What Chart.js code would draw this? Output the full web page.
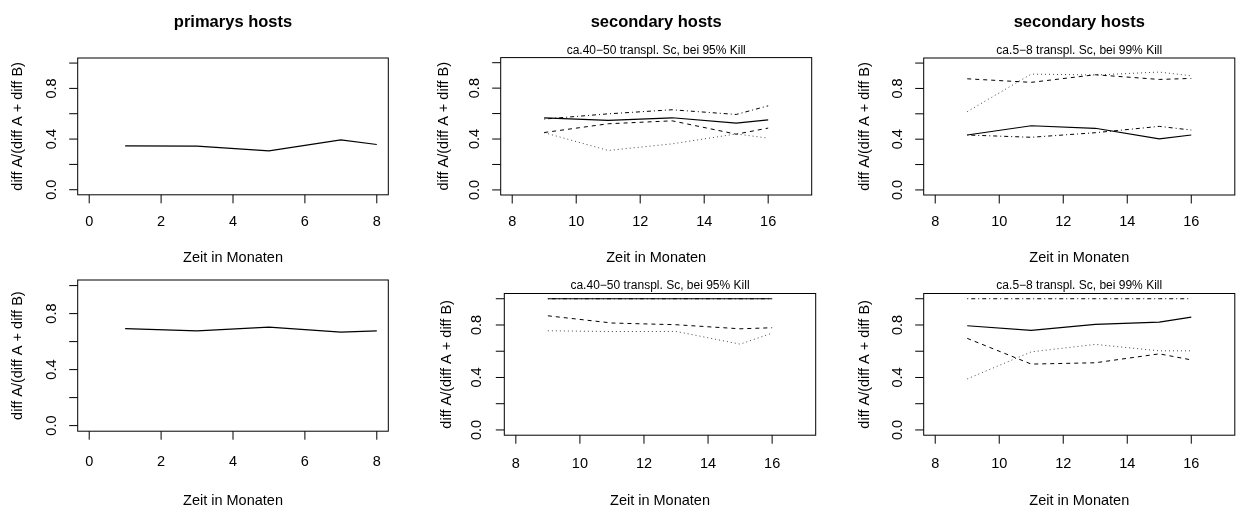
<!DOCTYPE html>
<html>
<head>
<meta charset="utf-8">
<script src="https://cdn.jsdelivr.net/npm/chart.js@4"></script>
<style>
  html, body { margin: 0; padding: 0; background: #fff; }
  #wrap { position: relative; width: 1240px; height: 511px; overflow: hidden; }
  #wrap canvas { position: absolute; left: 0; top: 0; }
</style>
</head>
<body>
<div id="wrap">
  <canvas id="p1" width="1240" height="511"></canvas>
  <canvas id="p2" width="1240" height="511"></canvas>
  <canvas id="p3" width="1240" height="511"></canvas>
  <canvas id="p4" width="1240" height="511"></canvas>
  <canvas id="p5" width="1240" height="511"></canvas>
  <canvas id="p6" width="1240" height="511"></canvas>
</div>
<script>
// months
const primMonths = [1, 3, 5, 7, 8];
const secMonths = [9, 11, 13, 15, 16];

// tick values
const primXTicks = [0, 2, 4, 6, 8];
const secXTicks = [8, 10, 12, 14, 16];
const yTicks = [0, 0.2, 0.4, 0.6, 0.8, 1.0];
const yTickLabels = ['0.0', '0.4', '0.8'];   // R drops the overlapping ones
const yLabelled = [0, 0.4, 0.8];

// top row
const prim1 = [0.346, 0.345, 0.307, 0.394, 0.357];
const sec95Solid1 = [0.567, 0.546, 0.567, 0.525, 0.551];
const sec95Dash1 = [0.451, 0.52, 0.543, 0.438, 0.486];
const sec95Dot1 = [0.45, 0.31, 0.362, 0.44, 0.407];
const sec95DotDash1 = [0.557, 0.598, 0.63, 0.593, 0.661];
const sec99Solid1 = [0.433, 0.506, 0.486, 0.402, 0.433];
const sec99Dash1 = [0.876, 0.848, 0.908, 0.871, 0.879];
const sec99Dot1 = [0.617, 0.913, 0.906, 0.929, 0.9];
const sec99DotDash1 = [0.433, 0.415, 0.451, 0.501, 0.472];

// bottom row
const prim2 = [0.693, 0.676, 0.703, 0.667, 0.676];
const sec95Solid2 = [1, 1, 1, 1, 1];
const sec95Dash2 = [0.87, 0.815, 0.802, 0.771, 0.779];
const sec95Dot2 = [0.756, 0.75, 0.751, 0.654, 0.738];
const sec95DotDash2 = [1, 1, 1, 1, 1];
const sec99Solid2 = [0.794, 0.759, 0.805, 0.822, 0.86];
const sec99Dash2 = [0.698, 0.502, 0.512, 0.58, 0.534];
const sec99Dot2 = [0.389, 0.595, 0.652, 0.603, 0.603];
const sec99DotDash2 = [1, 1, 1, 1, 1];

const titlePrim = 'primarys hosts';
const titleSec = 'secondary hosts';
const sub95 = 'ca.40\u221250 transpl. Sc, bei 95% Kill';
const sub99 = 'ca.5\u22128 transpl. Sc, bei 99% Kill';
const xTitle = 'Zeit in Monaten';
const yTitle = 'diff A/(diff A + diff B)';

const FONT = '"Liberation Sans", Arial, sans-serif';

// line styles like R lty 1..4
const styles = {
  solid:   { color: '#000', dash: [], width: 1.2 },
  dash:    { color: '#000', dash: [4, 4], width: 1 },
  dot:     { color: '#444', dash: [1, 3], width: 1 },
  dotdash: { color: '#000', dash: [1, 3, 4, 3], width: 1 }
};

function series(xs, ys, kind) {
  const s = styles[kind];
  return {
    data: xs.map((x, i) => ({ x: x, y: ys[i] })),
    borderColor: s.color,
    borderDash: s.dash,
    borderWidth: s.width,
    pointRadius: 0,
    tension: 0,
    fill: false
  };
}

// draws the R-style frame: box, ticks, labels, titles
const rFrame = {
  id: 'rFrame',
  afterDraw(chart, args, o) {
    const ctx = chart.ctx;
    const a = chart.chartArea;
    const xs = chart.scales.x, ys = chart.scales.y;
    ctx.save();
    ctx.strokeStyle = '#000';
    ctx.lineWidth = 1;
    ctx.setLineDash([]);
    ctx.strokeRect(a.left, a.top, a.right - a.left, a.bottom - a.top);

    ctx.beginPath();
    o.xTicks.forEach(v => {
      const px = xs.getPixelForValue(v);
      ctx.moveTo(px, a.bottom);
      ctx.lineTo(px, a.bottom + 8.5);
    });
    yTicks.forEach(v => {
      const py = ys.getPixelForValue(v);
      ctx.moveTo(a.left, py);
      ctx.lineTo(a.left - 8.5, py);
    });
    ctx.stroke();

    ctx.fillStyle = '#000';
    ctx.textAlign = 'center';
    ctx.textBaseline = 'middle';
    ctx.font = '14.5px ' + FONT;
    o.xTicks.forEach(v => {
      ctx.fillText(String(v), xs.getPixelForValue(v), o.xTickLabY);
    });
    yLabelled.forEach((v, i) => {
      ctx.save();
      ctx.translate(o.yTickLabX, ys.getPixelForValue(v));
      ctx.rotate(-Math.PI / 2);
      ctx.fillText(yTickLabels[i], 0, 0);
      ctx.restore();
    });

    const cx = (a.left + a.right) / 2;
    const cy = (a.top + a.bottom) / 2;
    ctx.fillText(xTitle, cx, o.xLabY);
    ctx.save();
    ctx.translate(o.yLabX, cy);
    ctx.rotate(-Math.PI / 2);
    ctx.fillText(yTitle, 0, 0);
    ctx.restore();

    if (o.sub) {
      ctx.font = '12px ' + FONT;
      ctx.fillText(o.sub, cx, o.subY);
    }
    if (o.title) {
      ctx.font = 'bold 16.5px ' + FONT;
      ctx.fillText(o.title, cx, 22);
    }
    ctx.restore();
  }
};

function makePanel(id, box, xMin, xMax, datasets, frame) {
  new Chart(document.getElementById(id), {
    type: 'line',
    data: { datasets: datasets },
    options: {
      responsive: false,
      animation: false,
      events: [],
      layout: {
        padding: { left: box[0], top: box[1], right: 1240 - box[2], bottom: 511 - box[3] }
      },
      scales: {
        x: { type: 'linear', display: false, min: xMin, max: xMax },
        y: { type: 'linear', display: false, min: -0.04, max: 1.04 }
      },
      plugins: {
        legend: { display: false },
        tooltip: { enabled: false },
        rFrame: frame
      }
    },
    plugins: [rFrame]
  });
}

// R adds 4% to each side of the data range
const primMin = 0 - 0.04 * 8, primMax = 8 + 0.04 * 8;
const secMin = 8 - 0.04 * 9, secMax = 17 + 0.04 * 9;

makePanel('p1', [77.7, 58, 388.3, 194.8], primMin, primMax,
  [series(primMonths, prim1, 'solid')],
  { title: titlePrim, xTicks: primXTicks, xTickLabY: 222, yTickLabX: 51.7, yLabX: 18.3, xLabY: 258 });

makePanel('p2', [500.7, 57.6, 811.7, 195], secMin, secMax,
  [series(secMonths, sec95Solid1, 'solid'), series(secMonths, sec95Dash1, 'dash'),
   series(secMonths, sec95Dot1, 'dot'), series(secMonths, sec95DotDash1, 'dotdash')],
  { title: titleSec, sub: sub95, subY: 51, xTicks: secXTicks, xTickLabY: 222, yTickLabX: 475, yLabX: 444.3, xLabY: 258 });

makePanel('p3', [923.7, 58, 1234.8, 195], secMin, secMax,
  [series(secMonths, sec99Solid1, 'solid'), series(secMonths, sec99Dash1, 'dash'),
   series(secMonths, sec99Dot1, 'dot'), series(secMonths, sec99DotDash1, 'dotdash')],
  { title: titleSec, sub: sub99, subY: 51, xTicks: secXTicks, xTickLabY: 222, yTickLabX: 898.3, yLabX: 865, xLabY: 258 });

makePanel('p4', [77.7, 280, 388.3, 431.2], primMin, primMax,
  [series(primMonths, prim2, 'solid')],
  { xTicks: primXTicks, xTickLabY: 461.7, yTickLabX: 51.7, yLabX: 18.3, xLabY: 500.7 });

makePanel('p5', [504.3, 293.5, 815.7, 435.2], secMin, secMax,
  [series(secMonths, sec95Solid2, 'solid'), series(secMonths, sec95Dash2, 'dash'),
   series(secMonths, sec95Dot2, 'dot'), series(secMonths, sec95DotDash2, 'dotdash')],
  { sub: sub95, subY: 286, xTicks: secXTicks, xTickLabY: 464.3, yTickLabX: 476.7, yLabX: 446.7, xLabY: 500.7 });

makePanel('p6', [923.7, 293.5, 1234.8, 435.2], secMin, secMax,
  [series(secMonths, sec99Solid2, 'solid'), series(secMonths, sec99Dash2, 'dash'),
   series(secMonths, sec99Dot2, 'dot'), series(secMonths, sec99DotDash2, 'dotdash')],
  { sub: sub99, subY: 286, xTicks: secXTicks, xTickLabY: 464.3, yTickLabX: 898.3, yLabX: 865, xLabY: 500.7 });
</script>
</body>
</html>
